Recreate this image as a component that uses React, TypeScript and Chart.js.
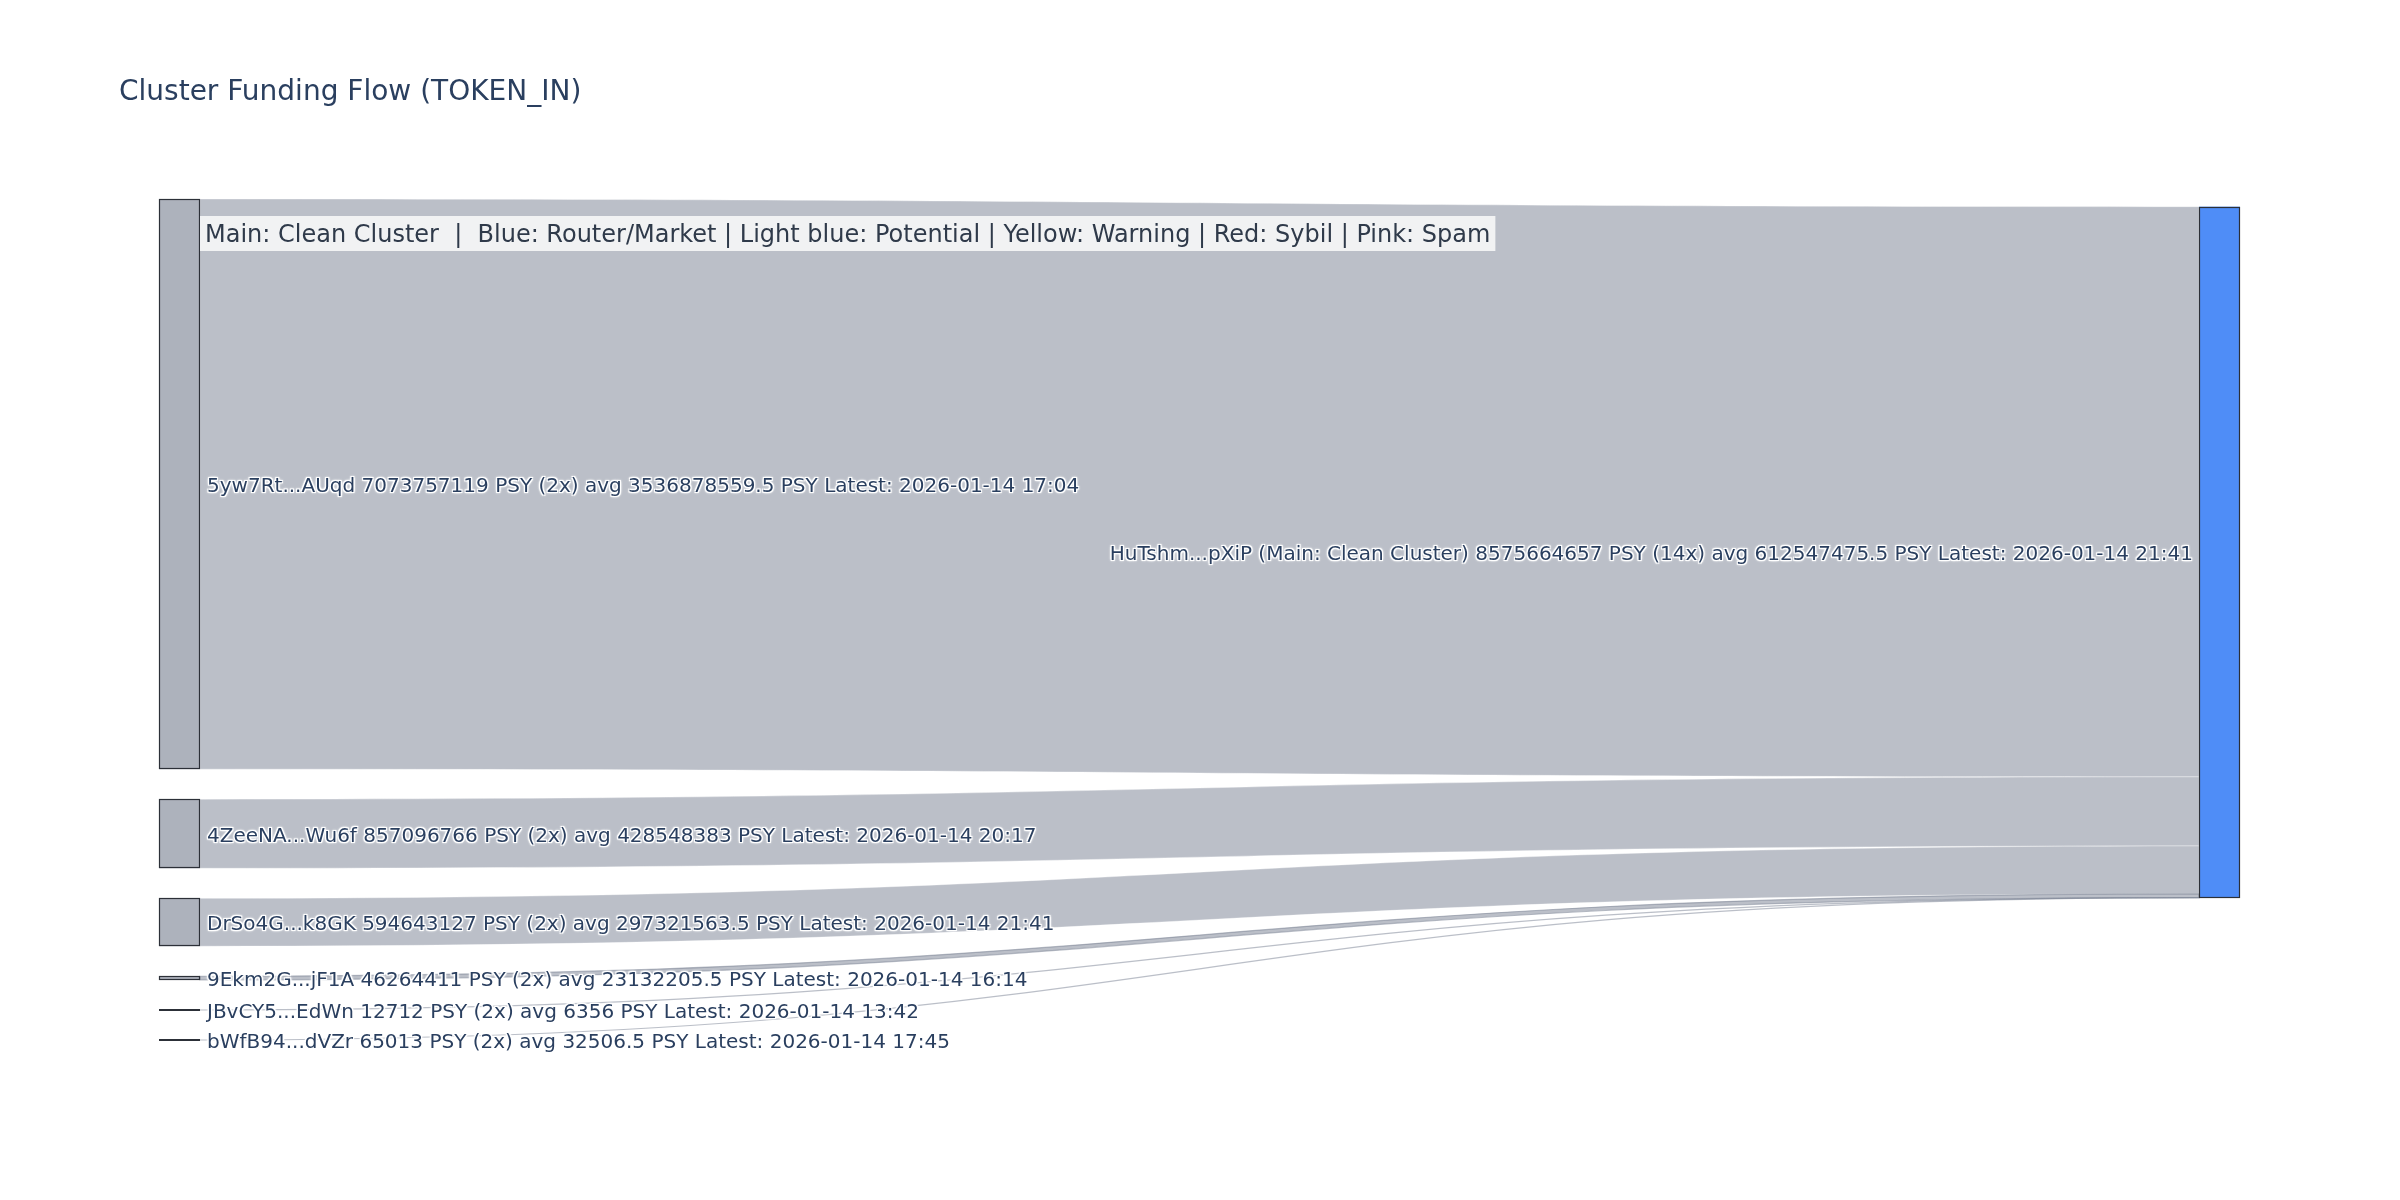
import React, { useEffect, useRef } from 'react';
import { Chart, registerables } from 'chart.js';

Chart.register(...registerables);

const TITLE = 'Cluster Funding Flow (TOKEN_IN)';
const LEGEND_NOTE =
  'Main: Clean Cluster  |  Blue: Router/Market | Light blue: Potential | Yellow: Warning | Red: Sybil | Pink: Spam';

const SOURCE_LABELS = [
  '5yw7Rt...AUqd 7073757119 PSY (2x) avg 3536878559.5 PSY Latest: 2026-01-14 17:04',
  '4ZeeNA...Wu6f 857096766 PSY (2x) avg 428548383 PSY Latest: 2026-01-14 20:17',
  'DrSo4G...k8GK 594643127 PSY (2x) avg 297321563.5 PSY Latest: 2026-01-14 21:41',
  '9Ekm2G...jF1A 46264411 PSY (2x) avg 23132205.5 PSY Latest: 2026-01-14 16:14',
  'JBvCY5...EdWn 12712 PSY (2x) avg 6356 PSY Latest: 2026-01-14 13:42',
  'bWfB94...dVZr 65013 PSY (2x) avg 32506.5 PSY Latest: 2026-01-14 17:45',
];
const SOURCE_VALUES = [7073757119, 857096766, 594643127, 46264411, 12712, 65013];
const TARGET_LABEL =
  'HuTshm...pXiP (Main: Clean Cluster) 8575664657 PSY (14x) avg 612547475.5 PSY Latest: 2026-01-14 21:41';

const TOTAL = SOURCE_VALUES.reduce((a, b) => a + b, 0);
const PAD_FRACTION = 0.04343; // node padding relative to total flow
const PAD = TOTAL * PAD_FRACTION;
const Y_MAX = TOTAL + PAD * (SOURCE_VALUES.length - 1);

const STYLE = {
  nodeThickness: 41,
  sourceFill: '#adb2bc',
  targetFill: '#4f8df7',
  nodeStroke: 'rgb(44,48,56)',
  linkFill: 'rgba(120,128,145,0.5)',
  linkSeam: 'rgba(255,255,255,0.45)',
  textColor: '#2a3f5f',
  noteColor: '#2f3a4a',
  font: '"DejaVu Sans", Verdana, sans-serif',
};

function shadowText(ctx: CanvasRenderingContext2D, text: string, x: number, y: number) {
  const fill = ctx.fillStyle;
  ctx.save();
  ctx.fillStyle = '#ffffff';
  ctx.shadowColor = '#ffffff';
  ctx.shadowBlur = 2;
  const offs = [
    [1, 1],
    [-1, -1],
    [1, -1],
    [-1, 1],
  ];
  for (const [dx, dy] of offs) {
    ctx.fillText(text, x + dx, y + dy);
  }
  ctx.restore();
  ctx.fillStyle = fill;
  ctx.fillText(text, x, y);
}

const sankeyPlugin = {
  id: 'sankeyDraw',
  afterDraw(chart: any) {
    const ctx: CanvasRenderingContext2D = chart.ctx;
    const xs = chart.scales.x;
    const ys = chart.scales.y;
    const th = STYLE.nodeThickness;

    let cursor = 0;
    const src = SOURCE_VALUES.map((v) => {
      const y0 = cursor;
      cursor += v + PAD;
      return { y0, y1: y0 + v };
    });
    const centre =
      src.reduce((a, s, i) => a + ((s.y0 + s.y1) / 2) * SOURCE_VALUES[i], 0) / TOTAL;
    const tTop = centre - TOTAL / 2;

    const sx0 = xs.getPixelForValue(0);
    const sx1 = sx0 + th;
    const tx1 = xs.getPixelForValue(1);
    const tx0 = tx1 - th;
    const xm = (sx1 + tx0) / 2;

    ctx.save();
    let tCursor = tTop;
    src.forEach((s, i) => {
      const v = SOURCE_VALUES[i];
      const a0 = ys.getPixelForValue(s.y0);
      const a1 = ys.getPixelForValue(s.y1);
      const b0 = ys.getPixelForValue(tCursor);
      const b1 = ys.getPixelForValue(tCursor + v);
      tCursor += v;
      ctx.beginPath();
      ctx.moveTo(sx1, a0);
      ctx.bezierCurveTo(xm, a0, xm, b0, tx0, b0);
      ctx.lineTo(tx0, b1);
      ctx.bezierCurveTo(xm, b1, xm, a1, sx1, a1);
      ctx.closePath();
      ctx.fillStyle = STYLE.linkFill;
      ctx.fill();
      if (a1 - a0 > 6) {
        ctx.strokeStyle = STYLE.linkSeam;
        ctx.lineWidth = 0.8;
      } else {
        ctx.strokeStyle = STYLE.linkFill;
        ctx.lineWidth = 1.2;
      }
      ctx.stroke();
    });

    const drawNode = (x0: number, x1: number, y0: number, y1: number, fill: string) => {
      ctx.fillStyle = fill;
      ctx.fillRect(x0, y0, x1 - x0, y1 - y0);
      ctx.strokeStyle = STYLE.nodeStroke;
      const h = Math.round(y1 - y0);
      if (h < 2) {
        ctx.lineWidth = 2;
        ctx.beginPath();
        ctx.moveTo(Math.round(x0), Math.round(y0));
        ctx.lineTo(Math.round(x1), Math.round(y0));
        ctx.stroke();
      } else {
        ctx.lineWidth = 1.2;
        ctx.strokeRect(Math.round(x0) + 0.5, Math.round(y0) + 0.5, Math.round(x1 - x0) - 1, h - 1);
      }
    };
    src.forEach((s) => {
      drawNode(sx0, sx1, ys.getPixelForValue(s.y0), ys.getPixelForValue(s.y1), STYLE.sourceFill);
    });
    drawNode(tx0, tx1, ys.getPixelForValue(tTop), ys.getPixelForValue(tTop + TOTAL), STYLE.targetFill);

    ctx.font = `20px ${STYLE.font}`;
    ctx.textBaseline = 'middle';
    ctx.textAlign = 'left';
    src.forEach((s, i) => {
      const cy = (ys.getPixelForValue(s.y0) + ys.getPixelForValue(s.y1)) / 2;
      ctx.fillStyle = STYLE.textColor;
      shadowText(ctx, SOURCE_LABELS[i], sx1 + 7, cy + 3);
    });
    ctx.textAlign = 'right';
    const tcy = (ys.getPixelForValue(tTop) + ys.getPixelForValue(tTop + TOTAL)) / 2;
    ctx.fillStyle = STYLE.textColor;
    shadowText(ctx, TARGET_LABEL, tx0 - 6, tcy + 3);

    ctx.font = `24px ${STYLE.font}`;
    ctx.textAlign = 'left';
    const noteX = sx1 + 5;
    const noteTop = ys.top + 17;
    const w = ctx.measureText(LEGEND_NOTE).width;
    ctx.fillStyle = 'rgba(255,255,255,0.8)';
    ctx.fillRect(sx1, noteTop, w + 10, 35);
    ctx.fillStyle = STYLE.noteColor;
    ctx.fillText(LEGEND_NOTE, noteX, noteTop + 20);

    ctx.font = `28px ${STYLE.font}`;
    ctx.fillStyle = STYLE.textColor;
    ctx.textAlign = 'left';
    ctx.fillText(TITLE, 119, 93);
    ctx.restore();
  },
};

export default function App() {
  const ref = useRef<HTMLCanvasElement | null>(null);
  useEffect(() => {
    document.body.style.margin = '0';
    const canvas = ref.current;
    if (!canvas) return;
    const chart = new Chart(canvas, {
      type: 'scatter',
      data: { datasets: [{ data: [], showLine: false }] },
      options: {
        animation: false,
        responsive: false,
        devicePixelRatio: 1,
        layout: { padding: { left: 159, right: 160, top: 199, bottom: 160 } },
        scales: {
          x: { type: 'linear', min: 0, max: 1, display: false },
          y: { type: 'linear', min: 0, max: Y_MAX, reverse: true, display: false },
        },
        plugins: {
          legend: { display: false },
          title: { display: false },
          tooltip: { enabled: false },
        },
      },
      plugins: [sankeyPlugin],
    });
    return () => chart.destroy();
  }, []);
  return (
    <div style={{ position: 'absolute', left: 0, top: 0, width: 2400, height: 1200, background: '#fff' }}>
      <canvas ref={ref} width={2400} height={1200} style={{ display: 'block' }} />
    </div>
  );
}
